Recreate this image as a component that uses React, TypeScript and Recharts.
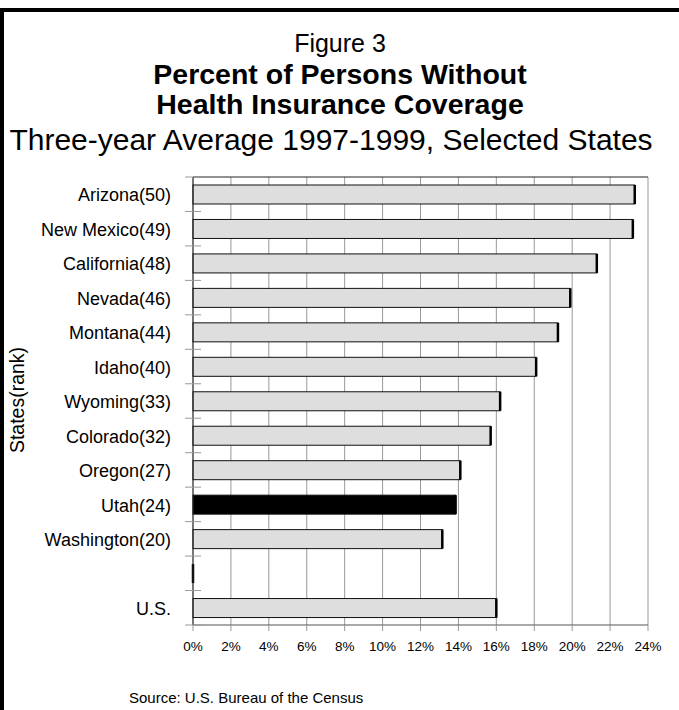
import React from 'react';
import { BarChart, Bar, XAxis, YAxis, CartesianGrid } from 'recharts';

// States with their uninsured rank, plus a spacer row before the national figure
const states = [
  'Arizona(50)',
  'New Mexico(49)',
  'California(48)',
  'Nevada(46)',
  'Montana(44)',
  'Idaho(40)',
  'Wyoming(33)',
  'Colorado(32)',
  'Oregon(27)',
  'Utah(24)',
  'Washington(20)',
  '',
  'U.S.',
];

// Percent without coverage, three-year average 1997-1999
const uninsured = [23.3, 23.2, 21.3, 19.9, 19.25, 18.1, 16.2, 15.7, 14.1, 13.85, 13.15, 0, 16.0];

const highlighted = 'Utah(24)';

const percentTicks = [0, 2, 4, 6, 8, 10, 12, 14, 16, 18, 20, 22, 24];

const data = states.map((name, i) => ({ name, value: uninsured[i] }));

const FONT = '"Liberation Sans", Arial, Helvetica, sans-serif';

const StateTick = (props: any) => {
  const { x, y, payload, index } = props;
  const half = payload.offset ?? 0;
  return (
    <g>
      {index === 0 && (
        <line x1={x - 8} x2={x + 8} y1={y - half} y2={y - half} stroke="#999" />
      )}
      <line x1={x - 8} x2={x + 8} y1={y + half} y2={y + half} stroke="#999" />
      <text
        x={x - 22}
        y={y}
        dy="0.4em"
        textAnchor="end"
        fontSize={18}
        fontFamily={FONT}
        fill="#000"
      >
        {payload.value}
      </text>
    </g>
  );
};

const ShadedBar = (props: any) => {
  const { x, y, width, height, payload } = props;
  const fill = payload.name === highlighted ? '#000' : '#dedede';
  return (
    <g>
      {width > 0 && (
        <rect x={x} y={y} width={width} height={height} fill={fill} stroke="#111" strokeWidth={1} />
      )}
      <line x1={x + width} x2={x + width} y1={y} y2={y + height} stroke="#000" strokeWidth={2.5} />
    </g>
  );
};

export default function App() {
  return (
    <div
      style={{
        position: 'fixed',
        left: 0,
        top: 0,
        width: 679,
        height: 710,
        background: '#fff',
        overflow: 'hidden',
      }}
    >
      <div style={{ position: 'absolute', left: 0, top: 8, width: 679, height: 4, background: '#000' }} />
      <div style={{ position: 'absolute', left: 0, top: 8, width: 4, height: 702, background: '#000' }} />

      <svg
        width={679}
        height={710}
        style={{ position: 'absolute', left: 0, top: 0 }}
        fontFamily={FONT}
      >
        <text x={340} y={52} textAnchor="middle" fontSize={25}>
          Figure 3
        </text>
        <text x={340} y={84} textAnchor="middle" fontSize={28.5} fontWeight="bold">
          Percent of Persons Without
        </text>
        <text x={340} y={114} textAnchor="middle" fontSize={28.5} fontWeight="bold">
          Health Insurance Coverage
        </text>
        <text x={331} y={150} textAnchor="middle" fontSize={30}>
          Three-year Average 1997-1999, Selected States
        </text>
        <text x={24} y={400} textAnchor="middle" fontSize={19.5} transform="rotate(-90 24 400)">
          States(rank)
        </text>
        <text x={129} y={703} fontSize={15}>
          Source: U.S. Bureau of the Census
        </text>
      </svg>

      <div style={{ position: 'absolute', left: 0, top: 0 }}>
        <BarChart
          width={679}
          height={710}
          data={data}
          layout="vertical"
          margin={{ top: 177, right: 31, bottom: 45, left: 0 }}
          barSize={19}
        >
          <CartesianGrid horizontal={false} stroke="#999" />
          <CartesianGrid
            vertical={false}
            stroke="#222"
            horizontalCoordinatesGenerator={({ offset }: any) => [offset.top]}
          />
          <XAxis
            type="number"
            domain={[0, 24]}
            ticks={percentTicks}
            interval={0}
            tickFormatter={(v: number) => `${v}%`}
            height={40}
            tickSize={6}
            tickMargin={10}
            axisLine={{ stroke: '#555' }}
            tickLine={{ stroke: '#999' }}
            tick={{ fontSize: 13.5, fill: '#000', fontFamily: FONT }}
          />
          <YAxis
            type="category"
            dataKey="name"
            width={193}
            interval={0}
            tickSize={0}
            tickMargin={0}
            tickLine={false}
            axisLine={{ stroke: '#222' }}
            tick={<StateTick />}
          />
          <Bar dataKey="value" shape={<ShadedBar />} isAnimationActive={false} />
        </BarChart>
      </div>
    </div>
  );
}
